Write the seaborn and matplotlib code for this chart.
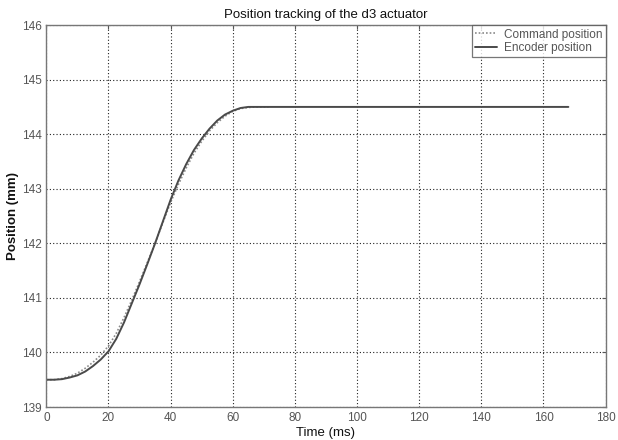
import numpy as np
import pandas as pd
import matplotlib
matplotlib.use("Agg")
import matplotlib.pyplot as plt
import seaborn as sns

# ── Data ─────────────────────────────────────────────────────
cmd_time = [0, 2.5, 5, 7.5, 10, 12.5, 15, 17.5, 20, 22.5, 25, 27.5, 30, 32.5,
            35, 37.5, 40, 42.5, 45, 47.5, 50, 52.5, 55, 57.5, 60, 62.5, 65,
            67.5, 70, 71.5]
cmd_pos = [139.50, 139.50, 139.52, 139.56, 139.62, 139.71, 139.82, 139.95,
           140.12, 140.35, 140.64, 140.96, 141.30, 141.65, 142.00, 142.38,
           142.75, 143.08, 143.38, 143.65, 143.87, 144.06, 144.21, 144.33,
           144.42, 144.47, 144.49, 144.50, 144.50, 144.50]

enc_time = [0, 2.5, 5, 7.5, 10, 12.5, 15, 17.5, 20, 22.5, 25, 27.5, 30, 32.5,
            35, 37.5, 40, 42.5, 45, 47.5, 50, 52.5, 55, 57.5, 60, 62.5, 65,
            70, 100, 140, 168]
enc_pos = [139.50, 139.50, 139.51, 139.54, 139.58, 139.65, 139.75, 139.87,
           140.02, 140.25, 140.55, 140.90, 141.25, 141.62, 142.00, 142.40,
           142.80, 143.15, 143.45, 143.71, 143.92, 144.10, 144.25, 144.36,
           144.43, 144.48, 144.50, 144.50, 144.50, 144.50, 144.50]

x_ticks = [0, 20, 40, 60, 80, 100, 120, 140, 160, 180]
y_ticks = [139, 140, 141, 142, 143, 144, 145, 146]

cmd_df = pd.DataFrame({"t": cmd_time, "pos": cmd_pos})
enc_df = pd.DataFrame({"t": enc_time, "pos": enc_pos})

# ── Style ────────────────────────────────────────────────────
sns.set_style("white")
plt.rcParams["font.family"] = ["Liberation Sans", "DejaVu Sans"]

fig = plt.figure(figsize=(6.18, 4.40), dpi=100)
ax = fig.add_axes([0.075, 0.075, 0.905, 0.868])

sns.lineplot(data=cmd_df, x="t", y="pos", ax=ax, color="#8a8a8a",
             linestyle=(0, (1, 1.2)), linewidth=1.2, label="Command position")
sns.lineplot(data=enc_df, x="t", y="pos", ax=ax, color="#4a4a4a",
             linewidth=1.4, label="Encoder position")

ax.set_xlim(0, 180)
ax.set_ylim(139, 146)
ax.set_xticks(x_ticks)
ax.set_yticks(y_ticks)
ax.grid(True, color="#222222", linestyle=(0, (1, 2)), linewidth=0.8)
ax.tick_params(direction="in", length=3, labelsize=8.5, colors="#555555",
               top=True, right=True)
for s in ax.spines.values():
    s.set_visible(True)
    s.set_color("#777777")
    s.set_linewidth(1.0)

ax.set_title("Position tracking of the d3 actuator", fontsize=9.5, color="#111111", pad=5)
ax.set_xlabel("Time (ms)", fontsize=9.5, color="#111111", labelpad=2)
ax.set_ylabel("Position (mm)", fontsize=9.5, color="#111111", labelpad=2,
              fontweight="bold")

leg = ax.legend(loc="upper right", fontsize=8.5, frameon=True, fancybox=False,
                borderaxespad=0, handlelength=1.8, borderpad=0.3,
                labelspacing=0.1, handletextpad=0.6)
leg.get_frame().set_edgecolor("#555555")
leg.get_frame().set_linewidth(0.9)
for txt in leg.get_texts():
    txt.set_color("#555555")

fig.savefig("out.png", dpi=100)
